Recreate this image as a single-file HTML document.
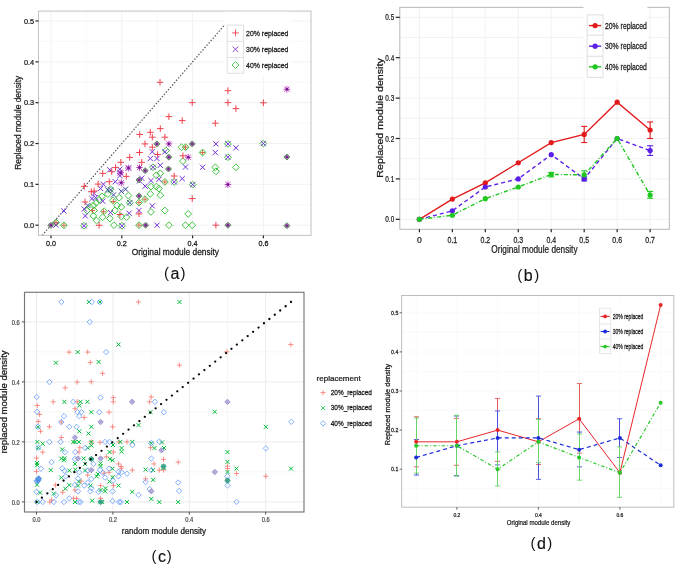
<!DOCTYPE html><html><head><meta charset="utf-8"><style>html,body{margin:0;padding:0;background:#fff;width:675px;height:564px;overflow:hidden}svg{display:block;font-family:"Liberation Sans", sans-serif}</style></head><body>
<svg width="675" height="564" viewBox="0 0 675 564">
<defs><filter id="gs" filterUnits="userSpaceOnUse" x="0" y="0" width="675" height="564"><feOffset dx="0" dy="0"/></filter></defs>
<rect width="675" height="564" fill="#fff"/>
<g filter="url(#gs)">
<rect x="38.5" y="11.1" width="272.5" height="224.3" fill="#fff"/>
<line x1="86.40" y1="11.10" x2="86.40" y2="235.40" stroke="#f6f6f6" stroke-width="0.8" />
<line x1="157.20" y1="11.10" x2="157.20" y2="235.40" stroke="#f6f6f6" stroke-width="0.8" />
<line x1="228.00" y1="11.10" x2="228.00" y2="235.40" stroke="#f6f6f6" stroke-width="0.8" />
<line x1="38.50" y1="204.78" x2="311.00" y2="204.78" stroke="#f6f6f6" stroke-width="0.8" />
<line x1="38.50" y1="163.94" x2="311.00" y2="163.94" stroke="#f6f6f6" stroke-width="0.8" />
<line x1="38.50" y1="123.10" x2="311.00" y2="123.10" stroke="#f6f6f6" stroke-width="0.8" />
<line x1="38.50" y1="82.26" x2="311.00" y2="82.26" stroke="#f6f6f6" stroke-width="0.8" />
<line x1="38.50" y1="41.42" x2="311.00" y2="41.42" stroke="#f6f6f6" stroke-width="0.8" />
<line x1="51.00" y1="11.10" x2="51.00" y2="235.40" stroke="#f1f1f1" stroke-width="0.9" />
<line x1="121.80" y1="11.10" x2="121.80" y2="235.40" stroke="#f1f1f1" stroke-width="0.9" />
<line x1="192.60" y1="11.10" x2="192.60" y2="235.40" stroke="#f1f1f1" stroke-width="0.9" />
<line x1="263.40" y1="11.10" x2="263.40" y2="235.40" stroke="#f1f1f1" stroke-width="0.9" />
<line x1="38.50" y1="225.20" x2="311.00" y2="225.20" stroke="#f1f1f1" stroke-width="0.9" />
<line x1="38.50" y1="184.36" x2="311.00" y2="184.36" stroke="#f1f1f1" stroke-width="0.9" />
<line x1="38.50" y1="143.52" x2="311.00" y2="143.52" stroke="#f1f1f1" stroke-width="0.9" />
<line x1="38.50" y1="102.68" x2="311.00" y2="102.68" stroke="#f1f1f1" stroke-width="0.9" />
<line x1="38.50" y1="61.84" x2="311.00" y2="61.84" stroke="#f1f1f1" stroke-width="0.9" />
<line x1="38.50" y1="21.00" x2="311.00" y2="21.00" stroke="#f1f1f1" stroke-width="0.9" />
<line x1="42.15" y1="235.41" x2="236.60" y2="11.08" stroke="#505050" stroke-width="1.2" stroke-dasharray="1.4 1.7"/>
<path d="M56.10 219.10L59.50 222.50L56.10 225.90L52.70 222.50ZM63.90 221.90L67.30 225.30L63.90 228.70L60.50 225.30ZM121.90 222.40L125.30 225.80L121.90 229.20L118.50 225.80ZM84.00 222.40L87.40 225.80L84.00 229.20L80.60 225.80ZM93.30 212.50L96.70 215.90L93.30 219.30L89.90 215.90ZM102.60 213.80L106.00 217.20L102.60 220.60L99.20 217.20ZM109.90 215.10L113.30 218.50L109.90 221.90L106.50 218.50ZM96.60 217.10L100.00 220.50L96.60 223.90L93.20 220.50ZM121.20 213.10L124.60 216.50L121.20 219.90L117.80 216.50ZM126.50 213.80L129.90 217.20L126.50 220.60L123.10 217.20ZM113.90 221.80L117.30 225.20L113.90 228.60L110.50 225.20ZM181.50 143.80L184.90 147.20L181.50 150.60L178.10 147.20ZM166.20 147.10L169.60 150.50L166.20 153.90L162.80 150.50ZM182.90 157.70L186.30 161.10L182.90 164.50L179.50 161.10ZM185.50 143.80L188.90 147.20L185.50 150.60L182.10 147.20ZM153.00 163.90L156.40 167.30L153.00 170.70L149.60 167.30ZM174.20 178.50L177.60 181.90L174.20 185.30L170.80 181.90ZM160.30 169.90L163.70 173.30L160.30 176.70L156.90 173.30ZM156.30 171.90L159.70 175.30L156.30 178.70L152.90 175.30ZM164.90 178.50L168.30 181.90L164.90 185.30L161.50 181.90ZM151.00 183.20L154.40 186.60L151.00 190.00L147.60 186.60ZM156.30 183.20L159.70 186.60L156.30 190.00L152.90 186.60ZM159.00 185.20L162.40 188.60L159.00 192.00L155.60 188.60ZM150.30 190.50L153.70 193.90L150.30 197.30L146.90 193.90ZM160.30 191.80L163.70 195.20L160.30 198.60L156.90 195.20ZM145.00 195.80L148.40 199.20L145.00 202.60L141.60 199.20ZM139.00 199.20L142.40 202.60L139.00 206.00L135.60 202.60ZM151.00 208.50L154.40 211.90L151.00 215.30L147.60 211.90ZM164.90 207.10L168.30 210.50L164.90 213.90L161.50 210.50ZM188.20 210.50L191.60 213.90L188.20 217.30L184.80 213.90ZM139.00 221.80L142.40 225.20L139.00 228.60L135.60 225.20ZM168.90 221.80L172.30 225.20L168.90 228.60L165.50 225.20ZM185.50 221.80L188.90 225.20L185.50 228.60L182.10 225.20ZM192.20 221.80L195.60 225.20L192.20 228.60L188.80 225.20ZM202.60 149.10L206.00 152.50L202.60 155.90L199.20 152.50ZM215.30 163.90L218.70 167.30L215.30 170.70L211.90 167.30ZM215.90 167.90L219.30 171.30L215.90 174.70L212.50 171.30ZM235.90 163.90L239.30 167.30L235.90 170.70L232.50 167.30ZM227.90 140.50L231.30 143.90L227.90 147.30L224.50 143.90ZM227.90 153.80L231.30 157.20L227.90 160.60L224.50 157.20ZM263.40 140.10L266.80 143.50L263.40 146.90L260.00 143.50ZM192.70 181.20L196.10 184.60L192.70 188.00L189.30 184.60ZM110.50 185.80L113.90 189.20L110.50 192.60L107.10 189.20ZM102.00 192.90L105.40 196.30L102.00 199.70L98.60 196.30ZM99.10 196.40L102.50 199.80L99.10 203.20L95.70 199.80ZM96.30 199.30L99.70 202.70L96.30 206.10L92.90 202.70ZM93.50 202.10L96.90 205.50L93.50 208.90L90.10 205.50ZM90.60 204.20L94.00 207.60L90.60 211.00L87.20 207.60ZM87.10 207.10L90.50 210.50L87.10 213.90L83.70 210.50ZM94.20 207.10L97.60 210.50L94.20 213.90L90.80 210.50ZM104.10 207.80L107.50 211.20L104.10 214.60L100.70 211.20ZM107.80 190.70L111.20 194.10L107.80 197.50L104.40 194.10ZM128.40 192.20L131.80 195.60L128.40 199.00L125.00 195.60ZM112.80 197.10L116.20 200.50L112.80 203.90L109.40 200.50ZM119.20 194.30L122.60 197.70L119.20 201.10L115.80 197.70ZM129.80 199.30L133.20 202.70L129.80 206.10L126.40 202.70ZM117.10 202.10L120.50 205.50L117.10 208.90L113.70 205.50ZM121.30 203.50L124.70 206.90L121.30 210.30L117.90 206.90ZM114.90 207.10L118.30 210.50L114.90 213.90L111.50 210.50Z" fill="none" stroke="#3fc43f" stroke-width="1.0"/>
<path d="M53.40 222.40L58.60 227.60M53.40 227.60L58.60 222.40M61.30 208.30L66.50 213.50M61.30 213.50L66.50 208.30M117.30 170.00L122.50 175.20M117.30 175.20L122.50 170.00M125.90 165.40L131.10 170.60M125.90 170.60L131.10 165.40M89.40 196.00L94.60 201.20M89.40 201.20L94.60 196.00M82.70 213.30L87.90 218.50M82.70 218.50L87.90 213.30M119.30 223.20L124.50 228.40M119.30 228.40L124.50 223.20M81.40 223.20L86.60 228.40M81.40 228.40L86.60 223.20M149.70 149.20L154.90 154.40M149.70 154.40L154.90 149.20M162.30 149.20L167.50 154.40M162.30 154.40L167.50 149.20M147.70 155.90L152.90 161.10M147.70 161.10L152.90 155.90M154.30 155.90L159.50 161.10M154.30 161.10L159.50 155.90M150.40 164.70L155.60 169.90M150.40 169.90L155.60 164.70M157.70 162.70L162.90 167.90M157.70 167.90L162.90 162.70M182.90 164.40L188.10 169.60M182.90 169.60L188.10 164.40M179.60 176.00L184.80 181.20M179.60 181.20L184.80 176.00M171.60 179.30L176.80 184.50M171.60 184.50L176.80 179.30M148.40 178.00L153.60 183.20M148.40 183.20L153.60 178.00M156.40 176.70L161.60 181.90M156.40 181.90L161.60 176.70M149.70 203.30L154.90 208.50M149.70 208.50L154.90 203.30M136.40 207.90L141.60 213.10M136.40 213.10L141.60 207.90M154.40 222.60L159.60 227.80M154.40 227.80L159.60 222.60M213.30 141.30L218.50 146.50M213.30 146.50L218.50 141.30M225.30 141.30L230.50 146.50M225.30 146.50L230.50 141.30M233.30 145.20L238.50 150.40M233.30 150.40L238.50 145.20M212.70 149.90L217.90 155.10M212.70 155.10L217.90 149.90M225.30 154.60L230.50 159.80M225.30 159.80L230.50 154.60M200.00 164.70L205.20 169.90M200.00 169.90L205.20 164.70M260.80 140.90L266.00 146.10M260.80 146.10L266.00 140.90M190.10 182.00L195.30 187.20M190.10 187.20L195.30 182.00M107.20 167.20L112.40 172.40M107.20 172.40L112.40 167.20M117.20 166.70L122.40 171.90M117.20 171.90L122.40 166.70M139.10 175.60L144.30 180.80M139.10 180.80L144.30 175.60M142.60 183.60L147.80 188.80M142.60 188.80L147.80 183.60M136.90 178.30L142.10 183.50M136.90 183.50L142.10 178.30M100.80 181.60L106.00 186.80M100.80 186.80L106.00 181.60M98.00 185.90L103.20 191.10M98.00 191.10L103.20 185.90M93.00 195.10L98.20 200.30M93.00 200.30L98.20 195.10M91.60 190.80L96.80 196.00M91.60 196.00L96.80 190.80M100.10 198.60L105.30 203.80M100.10 203.80L105.30 198.60M81.70 206.40L86.90 211.60M81.70 211.60L86.90 206.40M112.70 179.10L117.90 184.30M112.70 184.30L117.90 179.10M117.30 173.10L122.50 178.30M117.30 178.30L122.50 173.10M107.90 210.00L113.10 215.20M107.90 215.20L113.10 210.00M126.50 210.70L131.70 215.90M126.50 215.90L131.70 210.70" fill="none" stroke="#7030d8" stroke-width="1.0"/>
<path d="M95.80 225.30H102.40M99.10 222.00V228.60M116.60 214.50H123.20M119.90 211.20V217.80M188.90 102.60H195.50M192.20 99.30V105.90M165.60 116.60H172.20M168.90 113.30V119.90M178.90 120.60H185.50M182.20 117.30V123.90M157.00 128.60H163.60M160.30 125.30V131.90M136.40 134.50H143.00M139.70 131.20V137.80M147.00 132.30H153.60M150.30 129.00V135.60M149.00 137.20H155.60M152.30 133.90V140.50M161.60 137.20H168.20M164.90 133.90V140.50M141.70 143.90H148.30M145.00 140.60V147.20M149.00 147.20H155.60M152.30 143.90V150.50M154.30 154.50H160.90M157.60 151.20V157.80M179.60 155.80H186.20M182.90 152.50V159.10M170.90 176.00H177.50M174.20 172.70V179.30M188.90 198.60H195.50M192.20 195.30V201.90M135.70 213.90H142.30M139.00 210.60V217.20M224.60 90.70H231.20M227.90 87.40V94.00M224.60 102.60H231.20M227.90 99.30V105.90M232.60 108.60H239.20M235.90 105.30V111.90M212.00 123.20H218.60M215.30 119.90V126.50M212.60 225.20H219.20M215.90 221.90V228.50M260.10 102.80H266.70M263.40 99.50V106.10M156.70 82.30H163.30M160.00 79.00V85.60M136.20 152.50H142.80M139.50 149.20V155.80M126.40 157.40H133.00M129.70 154.10V160.70M138.40 162.30H145.00M141.70 159.00V165.60M117.50 162.30H124.10M120.80 159.00V165.60M99.40 173.40H106.00M102.70 170.10V176.70M81.00 186.30H87.60M84.30 183.00V189.60M81.70 202.00H88.30M85.00 198.70V205.30M88.00 191.70H94.60M91.30 188.40V195.00M90.90 191.00H97.50M94.20 187.70V194.30M123.00 176.40H129.60M126.30 173.10V179.70M112.20 167.60H118.80M115.50 164.30V170.90M108.40 171.70H115.00M111.70 168.40V175.00M94.80 184.10H101.40M98.10 180.80V187.40M106.00 181.70H112.60M109.30 178.40V185.00" fill="none" stroke="#ef4450" stroke-width="1.0"/>
<path d="M105.10 187.30L110.30 192.50M105.10 192.50L110.30 187.30M85.20 202.90L90.40 208.10M85.20 208.10L90.40 202.90M108.10 187.30L113.30 192.50M108.10 192.50L113.30 187.30M110.90 192.30L116.10 197.50M110.90 197.50L116.10 192.30M123.00 186.60L128.20 191.80M123.00 191.80L128.20 186.60M118.70 188.70L123.90 193.90M118.70 193.90L123.90 188.70M127.20 200.10L132.40 205.30M127.20 205.30L132.40 200.10" fill="none" stroke="#3a4aa0" stroke-width="1.0"/>
<path d="M53.60 222.50H58.60M56.10 220.00V225.00M61.40 225.30H66.40M63.90 222.80V227.80M183.00 147.20H188.00M185.50 144.70V149.70M162.40 181.90H167.40M164.90 179.40V184.40M142.50 199.20H147.50M145.00 196.70V201.70M136.50 202.60H141.50M139.00 200.10V205.10M136.50 225.20H141.50M139.00 222.70V227.70M200.10 152.50H205.10M202.60 150.00V155.00M101.10 211.70H106.10M103.60 209.20V214.20M90.00 210.50H95.00M92.50 208.00V213.00M110.80 201.50H115.80M113.30 199.00V204.00" fill="none" stroke="#d86a4a" stroke-width="1.0"/>
<path d="M50.90 222.30L53.90 225.30L50.90 228.30L47.90 225.30Z" fill="#a8a0a4" stroke="#5a965a" stroke-width="1.0"/>
<path d="M49.10 223.50L52.70 227.10M49.10 227.10L52.70 223.50M48.70 225.30H53.10M50.90 223.10V227.50" fill="none" stroke="#8a5a9a" stroke-width="0.7"/>
<circle cx="50.90" cy="225.30" r="1.2" fill="#7a1f9a"/>
<path d="M145.60 222.20L148.60 225.20L145.60 228.20L142.60 225.20Z" fill="#a8a0a4" stroke="#5a965a" stroke-width="1.0"/>
<path d="M143.80 223.40L147.40 227.00M143.80 227.00L147.40 223.40M143.40 225.20H147.80M145.60 223.00V227.40" fill="none" stroke="#8a5a9a" stroke-width="0.7"/>
<circle cx="145.60" cy="225.20" r="1.2" fill="#7a1f9a"/>
<path d="M227.90 222.20L230.90 225.20L227.90 228.20L224.90 225.20Z" fill="#a8a0a4" stroke="#5a965a" stroke-width="1.0"/>
<path d="M226.10 223.40L229.70 227.00M226.10 227.00L229.70 223.40M225.70 225.20H230.10M227.90 223.00V227.40" fill="none" stroke="#8a5a9a" stroke-width="0.7"/>
<circle cx="227.90" cy="225.20" r="1.2" fill="#7a1f9a"/>
<path d="M286.90 222.70L289.90 225.70L286.90 228.70L283.90 225.70Z" fill="#a8a0a4" stroke="#5a965a" stroke-width="1.0"/>
<path d="M285.10 223.90L288.70 227.50M285.10 227.50L288.70 223.90M284.70 225.70H289.10M286.90 223.50V227.90" fill="none" stroke="#8a5a9a" stroke-width="0.7"/>
<circle cx="286.90" cy="225.70" r="1.2" fill="#7a1f9a"/>
<path d="M286.90 154.00L289.90 157.00L286.90 160.00L283.90 157.00Z" fill="#a8a0a4" stroke="#5a965a" stroke-width="1.0"/>
<path d="M285.10 155.20L288.70 158.80M285.10 158.80L288.70 155.20M284.70 157.00H289.10M286.90 154.80V159.20" fill="none" stroke="#8a5a9a" stroke-width="0.7"/>
<circle cx="286.90" cy="157.00" r="1.2" fill="#7a1f9a"/>
<path d="M156.90 140.90L159.90 143.90L156.90 146.90L153.90 143.90Z" fill="#a8a0a4" stroke="#5a965a" stroke-width="1.0"/>
<path d="M155.10 142.10L158.70 145.70M155.10 145.70L158.70 142.10M154.70 143.90H159.10M156.90 141.70V146.10" fill="none" stroke="#8a5a9a" stroke-width="0.7"/>
<circle cx="156.90" cy="143.90" r="1.2" fill="#7a1f9a"/>
<path d="M192.20 140.90L195.20 143.90L192.20 146.90L189.20 143.90Z" fill="#a8a0a4" stroke="#5a965a" stroke-width="1.0"/>
<path d="M190.40 142.10L194.00 145.70M190.40 145.70L194.00 142.10M190.00 143.90H194.40M192.20 141.70V146.10" fill="none" stroke="#8a5a9a" stroke-width="0.7"/>
<circle cx="192.20" cy="143.90" r="1.2" fill="#7a1f9a"/>
<path d="M168.90 154.20L171.90 157.20L168.90 160.20L165.90 157.20Z" fill="#a8a0a4" stroke="#5a965a" stroke-width="1.0"/>
<path d="M167.10 155.40L170.70 159.00M167.10 159.00L170.70 155.40M166.70 157.20H171.10M168.90 155.00V159.40" fill="none" stroke="#8a5a9a" stroke-width="0.7"/>
<circle cx="168.90" cy="157.20" r="1.2" fill="#7a1f9a"/>
<path d="M168.50 166.00L171.50 169.00L168.50 172.00L165.50 169.00Z" fill="#a8a0a4" stroke="#5a965a" stroke-width="1.0"/>
<path d="M166.70 167.20L170.30 170.80M166.70 170.80L170.30 167.20M166.30 169.00H170.70M168.50 166.80V171.20" fill="none" stroke="#8a5a9a" stroke-width="0.7"/>
<circle cx="168.50" cy="169.00" r="1.2" fill="#7a1f9a"/>
<path d="M139.00 177.00L142.00 180.00L139.00 183.00L136.00 180.00Z" fill="#a8a0a4" stroke="#5a965a" stroke-width="1.0"/>
<path d="M137.20 178.20L140.80 181.80M137.20 181.80L140.80 178.20M136.80 180.00H141.20M139.00 177.80V182.20" fill="none" stroke="#8a5a9a" stroke-width="0.7"/>
<circle cx="139.00" cy="180.00" r="1.2" fill="#7a1f9a"/>
<path d="M139.00 192.90L142.00 195.90L139.00 198.90L136.00 195.90Z" fill="#a8a0a4" stroke="#5a965a" stroke-width="1.0"/>
<path d="M137.20 194.10L140.80 197.70M137.20 197.70L140.80 194.10M136.80 195.90H141.20M139.00 193.70V198.10" fill="none" stroke="#8a5a9a" stroke-width="0.7"/>
<circle cx="139.00" cy="195.90" r="1.2" fill="#7a1f9a"/>
<path d="M145.20 167.70L148.20 170.70L145.20 173.70L142.20 170.70Z" fill="#a8a0a4" stroke="#5a965a" stroke-width="1.0"/>
<path d="M143.40 168.90L147.00 172.50M143.40 172.50L147.00 168.90M143.00 170.70H147.40M145.20 168.50V172.90" fill="none" stroke="#8a5a9a" stroke-width="0.7"/>
<circle cx="145.20" cy="170.70" r="1.2" fill="#7a1f9a"/>
<path d="M165.60 143.90H172.20M168.90 140.60V147.20M166.30 141.30L171.50 146.50M166.30 146.50L171.50 141.30" fill="none" stroke="#c040c0" stroke-width="1"/>
<circle cx="168.90" cy="143.90" r="1.3" fill="#6a1a8a"/>
<path d="M184.90 157.20H191.50M188.20 153.90V160.50M185.60 154.60L190.80 159.80M185.60 159.80L190.80 154.60" fill="none" stroke="#c040c0" stroke-width="1"/>
<circle cx="188.20" cy="157.20" r="1.3" fill="#6a1a8a"/>
<path d="M224.60 184.60H231.20M227.90 181.30V187.90M225.30 182.00L230.50 187.20M225.30 187.20L230.50 182.00" fill="none" stroke="#c040c0" stroke-width="1"/>
<circle cx="227.90" cy="184.60" r="1.3" fill="#6a1a8a"/>
<path d="M283.60 89.20H290.20M286.90 85.90V92.50M284.30 86.60L289.50 91.80M284.30 91.80L289.50 86.60" fill="none" stroke="#c040c0" stroke-width="1"/>
<circle cx="286.90" cy="89.20" r="1.3" fill="#6a1a8a"/>
<path d="M125.10 168.00H131.70M128.40 164.70V171.30M125.80 165.40L131.00 170.60M125.80 170.60L131.00 165.40" fill="none" stroke="#c040c0" stroke-width="1"/>
<circle cx="128.40" cy="168.00" r="1.3" fill="#6a1a8a"/>
<path d="M136.20 167.60H142.80M139.50 164.30V170.90M136.90 165.00L142.10 170.20M136.90 170.20L142.10 165.00" fill="none" stroke="#c040c0" stroke-width="1"/>
<circle cx="139.50" cy="167.60" r="1.3" fill="#6a1a8a"/>
<path d="M118.00 182.80H124.60M121.30 179.50V186.10M118.70 180.20L123.90 185.40M118.70 185.40L123.90 180.20" fill="none" stroke="#c040c0" stroke-width="1"/>
<circle cx="121.30" cy="182.80" r="1.3" fill="#6a1a8a"/>
<path d="M117.50 172.80H124.10M120.80 169.50V176.10M118.20 170.20L123.40 175.40M118.20 175.40L123.40 170.20" fill="none" stroke="#c040c0" stroke-width="1"/>
<circle cx="120.80" cy="172.80" r="1.3" fill="#6a1a8a"/>
<rect x="38.5" y="11.1" width="272.5" height="224.3" fill="none" stroke="#c4c4c4" stroke-width="1.05"/>
<rect x="224.5" y="11.8" width="66" height="64" fill="#fff"/>
<rect x="227.1" y="25.1" width="16.6" height="48.1" fill="#fff" stroke="#d8d8d8" stroke-width="0.8"/>
<line x1="227.10" y1="41.30" x2="243.70" y2="41.30" stroke="#d8d8d8" stroke-width="0.8" />
<line x1="227.10" y1="57.50" x2="243.70" y2="57.50" stroke="#d8d8d8" stroke-width="0.8" />
<path d="M232.10 32.90H238.90M235.50 29.50V36.30" stroke="#ee4455" stroke-width="0.9" fill="none"/>
<path d="M232.80 46.60L238.20 52.00M232.80 52.00L238.20 46.60" stroke="#7a2ed6" stroke-width="0.9" fill="none"/>
<path d="M235.50 61.50L239.00 65.00L235.50 68.50L232.00 65.00Z" stroke="#3fc43f" stroke-width="0.9" fill="none"/>
<text transform="translate(246.10 35.80) scale(0.09905 0.10000)" x="0" y="0" font-size="70.00" fill="#1a1a1a" stroke="#1a1a1a" stroke-width="2.50" >20% replaced</text>
<text transform="translate(246.10 51.80) scale(0.09905 0.10000)" x="0" y="0" font-size="70.00" fill="#1a1a1a" stroke="#1a1a1a" stroke-width="2.50" >30% replaced</text>
<text transform="translate(246.10 67.80) scale(0.09905 0.10000)" x="0" y="0" font-size="70.00" fill="#1a1a1a" stroke="#1a1a1a" stroke-width="2.50" >40% replaced</text>
<line x1="35.50" y1="225.20" x2="38.50" y2="225.20" stroke="#222" stroke-width="1.2" />
<text transform="translate(34.20 227.90) scale(0.10051 0.10000)" x="0" y="0" font-size="73.00" fill="#1a1a1a" stroke="#1a1a1a" stroke-width="2.50" text-anchor="end" >0.0</text>
<line x1="35.50" y1="184.36" x2="38.50" y2="184.36" stroke="#222" stroke-width="1.2" />
<text transform="translate(34.20 187.06) scale(0.10051 0.10000)" x="0" y="0" font-size="73.00" fill="#1a1a1a" stroke="#1a1a1a" stroke-width="2.50" text-anchor="end" >0.1</text>
<line x1="35.50" y1="143.52" x2="38.50" y2="143.52" stroke="#222" stroke-width="1.2" />
<text transform="translate(34.20 146.22) scale(0.10051 0.10000)" x="0" y="0" font-size="73.00" fill="#1a1a1a" stroke="#1a1a1a" stroke-width="2.50" text-anchor="end" >0.2</text>
<line x1="35.50" y1="102.68" x2="38.50" y2="102.68" stroke="#222" stroke-width="1.2" />
<text transform="translate(34.20 105.38) scale(0.10051 0.10000)" x="0" y="0" font-size="73.00" fill="#1a1a1a" stroke="#1a1a1a" stroke-width="2.50" text-anchor="end" >0.3</text>
<line x1="35.50" y1="61.84" x2="38.50" y2="61.84" stroke="#222" stroke-width="1.2" />
<text transform="translate(34.20 64.54) scale(0.10051 0.10000)" x="0" y="0" font-size="73.00" fill="#1a1a1a" stroke="#1a1a1a" stroke-width="2.50" text-anchor="end" >0.4</text>
<line x1="35.50" y1="21.00" x2="38.50" y2="21.00" stroke="#222" stroke-width="1.2" />
<text transform="translate(34.20 23.70) scale(0.10051 0.10000)" x="0" y="0" font-size="73.00" fill="#1a1a1a" stroke="#1a1a1a" stroke-width="2.50" text-anchor="end" >0.5</text>
<line x1="51.00" y1="235.40" x2="51.00" y2="238.20" stroke="#222" stroke-width="1.2" />
<text transform="translate(51.00 245.60) scale(0.09854 0.10000)" x="0" y="0" font-size="73.00" fill="#1a1a1a" stroke="#1a1a1a" stroke-width="2.50" text-anchor="middle" >0.0</text>
<line x1="121.80" y1="235.40" x2="121.80" y2="238.20" stroke="#222" stroke-width="1.2" />
<text transform="translate(121.80 245.60) scale(0.09854 0.10000)" x="0" y="0" font-size="73.00" fill="#1a1a1a" stroke="#1a1a1a" stroke-width="2.50" text-anchor="middle" >0.2</text>
<line x1="192.60" y1="235.40" x2="192.60" y2="238.20" stroke="#222" stroke-width="1.2" />
<text transform="translate(192.60 245.60) scale(0.09854 0.10000)" x="0" y="0" font-size="73.00" fill="#1a1a1a" stroke="#1a1a1a" stroke-width="2.50" text-anchor="middle" >0.4</text>
<line x1="263.40" y1="235.40" x2="263.40" y2="238.20" stroke="#222" stroke-width="1.2" />
<text transform="translate(263.40 245.60) scale(0.09854 0.10000)" x="0" y="0" font-size="73.00" fill="#1a1a1a" stroke="#1a1a1a" stroke-width="2.50" text-anchor="middle" >0.6</text>
<text transform="translate(131.70 254.50) scale(0.09504 0.10000)" x="0" y="0" font-size="88.00" fill="#1a1a1a" stroke="#1a1a1a" stroke-width="2.50" >Original module density</text>
<text transform="translate(21.30 169.80) rotate(-90) scale(0.10107 0.10000)" x="0" y="0" font-size="83.00" fill="#1a1a1a" stroke="#1a1a1a" stroke-width="2.50" >Replaced module density</text>
<text transform="translate(164.00 278.00) scale(0.10000 0.10000)" x="0" y="0" font-size="150.00" fill="#111" >(</text>
<text transform="translate(170.50 278.80) scale(0.10000 0.10000)" x="0" y="0" font-size="160.00" fill="#111" stroke="#111" stroke-width="1.50" >a</text>
<text transform="translate(180.50 278.00) scale(0.10000 0.10000)" x="0" y="0" font-size="150.00" fill="#111" >)</text>
<rect x="399.8" y="7.35" width="269.49999999999994" height="221.95000000000002" fill="#fff"/>
<line x1="419.40" y1="7.35" x2="419.40" y2="229.30" stroke="#efefef" stroke-width="0.8" />
<line x1="452.36" y1="7.35" x2="452.36" y2="229.30" stroke="#efefef" stroke-width="0.8" />
<line x1="485.32" y1="7.35" x2="485.32" y2="229.30" stroke="#efefef" stroke-width="0.8" />
<line x1="518.28" y1="7.35" x2="518.28" y2="229.30" stroke="#efefef" stroke-width="0.8" />
<line x1="551.24" y1="7.35" x2="551.24" y2="229.30" stroke="#efefef" stroke-width="0.8" />
<line x1="584.20" y1="7.35" x2="584.20" y2="229.30" stroke="#efefef" stroke-width="0.8" />
<line x1="617.16" y1="7.35" x2="617.16" y2="229.30" stroke="#efefef" stroke-width="0.8" />
<line x1="650.12" y1="7.35" x2="650.12" y2="229.30" stroke="#efefef" stroke-width="0.8" />
<line x1="399.80" y1="219.30" x2="669.30" y2="219.30" stroke="#f0f0f0" stroke-width="0.8" />
<line x1="399.80" y1="199.10" x2="669.30" y2="199.10" stroke="#f0f0f0" stroke-width="0.8" />
<line x1="399.80" y1="178.90" x2="669.30" y2="178.90" stroke="#f0f0f0" stroke-width="0.8" />
<line x1="399.80" y1="158.70" x2="669.30" y2="158.70" stroke="#f0f0f0" stroke-width="0.8" />
<line x1="399.80" y1="138.50" x2="669.30" y2="138.50" stroke="#f0f0f0" stroke-width="0.8" />
<line x1="399.80" y1="118.30" x2="669.30" y2="118.30" stroke="#f0f0f0" stroke-width="0.8" />
<line x1="399.80" y1="98.10" x2="669.30" y2="98.10" stroke="#f0f0f0" stroke-width="0.8" />
<line x1="399.80" y1="77.90" x2="669.30" y2="77.90" stroke="#f0f0f0" stroke-width="0.8" />
<line x1="399.80" y1="57.70" x2="669.30" y2="57.70" stroke="#f0f0f0" stroke-width="0.8" />
<line x1="399.80" y1="37.50" x2="669.30" y2="37.50" stroke="#f0f0f0" stroke-width="0.8" />
<line x1="399.80" y1="17.30" x2="669.30" y2="17.30" stroke="#f0f0f0" stroke-width="0.8" />
<rect x="399.8" y="7.35" width="269.49999999999994" height="221.95000000000002" fill="none" stroke="#bababa" stroke-width="1.05"/>
<line x1="584.20" y1="142.54" x2="584.20" y2="126.38" stroke="#e31a1c" stroke-width="1.1" />
<line x1="581.20" y1="142.54" x2="587.20" y2="142.54" stroke="#e31a1c" stroke-width="1.1" />
<line x1="581.20" y1="126.38" x2="587.20" y2="126.38" stroke="#e31a1c" stroke-width="1.1" />
<line x1="650.12" y1="138.50" x2="650.12" y2="121.94" stroke="#e31a1c" stroke-width="1.1" />
<line x1="647.12" y1="138.50" x2="653.12" y2="138.50" stroke="#e31a1c" stroke-width="1.1" />
<line x1="647.12" y1="121.94" x2="653.12" y2="121.94" stroke="#e31a1c" stroke-width="1.1" />
<line x1="650.12" y1="155.47" x2="650.12" y2="145.77" stroke="#5a1ee6" stroke-width="1.1" />
<line x1="647.12" y1="155.47" x2="653.12" y2="155.47" stroke="#5a1ee6" stroke-width="1.1" />
<line x1="647.12" y1="145.77" x2="653.12" y2="145.77" stroke="#5a1ee6" stroke-width="1.1" />
<line x1="584.20" y1="180.92" x2="584.20" y2="176.88" stroke="#5a1ee6" stroke-width="1.1" />
<line x1="581.20" y1="180.92" x2="587.20" y2="180.92" stroke="#5a1ee6" stroke-width="1.1" />
<line x1="581.20" y1="176.88" x2="587.20" y2="176.88" stroke="#5a1ee6" stroke-width="1.1" />
<line x1="650.12" y1="198.29" x2="650.12" y2="191.42" stroke="#1ec81e" stroke-width="1.1" />
<line x1="647.12" y1="198.29" x2="653.12" y2="198.29" stroke="#1ec81e" stroke-width="1.1" />
<line x1="647.12" y1="191.42" x2="653.12" y2="191.42" stroke="#1ec81e" stroke-width="1.1" />
<line x1="551.24" y1="176.88" x2="551.24" y2="172.44" stroke="#1ec81e" stroke-width="1.1" />
<line x1="548.24" y1="176.88" x2="554.24" y2="176.88" stroke="#1ec81e" stroke-width="1.1" />
<line x1="548.24" y1="172.44" x2="554.24" y2="172.44" stroke="#1ec81e" stroke-width="1.1" />
<line x1="584.20" y1="178.90" x2="584.20" y2="170.82" stroke="#1ec81e" stroke-width="1.1" />
<line x1="581.20" y1="178.90" x2="587.20" y2="178.90" stroke="#1ec81e" stroke-width="1.1" />
<line x1="581.20" y1="170.82" x2="587.20" y2="170.82" stroke="#1ec81e" stroke-width="1.1" />
<polyline points="419.40,219.30 452.36,199.10 485.32,182.94 518.28,162.74 551.24,142.54 584.20,134.46 617.16,102.14 650.12,130.02" fill="none" stroke="#e31a1c" stroke-width="1.4" />
<polyline points="419.40,219.30 452.36,210.82 485.32,186.98 518.28,178.90 551.24,154.66 584.20,178.90 617.16,138.50 650.12,150.62" fill="none" stroke="#5a1ee6" stroke-width="1.4" stroke-dasharray="4 3"/>
<polyline points="419.40,219.30 452.36,215.26 485.32,198.70 518.28,186.98 551.24,174.46 584.20,174.86 617.16,138.50 650.12,195.06" fill="none" stroke="#1ec81e" stroke-width="1.4" stroke-dasharray="4 2 1 2"/>
<circle cx="419.40" cy="219.30" r="2.6" fill="#e31a1c"/>
<circle cx="452.36" cy="199.10" r="2.6" fill="#e31a1c"/>
<circle cx="485.32" cy="182.94" r="2.6" fill="#e31a1c"/>
<circle cx="518.28" cy="162.74" r="2.6" fill="#e31a1c"/>
<circle cx="551.24" cy="142.54" r="2.6" fill="#e31a1c"/>
<circle cx="584.20" cy="134.46" r="2.6" fill="#e31a1c"/>
<circle cx="617.16" cy="102.14" r="2.6" fill="#e31a1c"/>
<circle cx="650.12" cy="130.02" r="2.6" fill="#e31a1c"/>
<circle cx="419.40" cy="219.30" r="2.6" fill="#5a1ee6"/>
<circle cx="452.36" cy="210.82" r="2.6" fill="#5a1ee6"/>
<circle cx="485.32" cy="186.98" r="2.6" fill="#5a1ee6"/>
<circle cx="518.28" cy="178.90" r="2.6" fill="#5a1ee6"/>
<circle cx="551.24" cy="154.66" r="2.6" fill="#5a1ee6"/>
<circle cx="584.20" cy="178.90" r="2.6" fill="#5a1ee6"/>
<circle cx="617.16" cy="138.50" r="2.6" fill="#5a1ee6"/>
<circle cx="650.12" cy="150.62" r="2.6" fill="#5a1ee6"/>
<circle cx="419.40" cy="219.30" r="2.6" fill="#1ec81e"/>
<circle cx="452.36" cy="215.26" r="2.6" fill="#1ec81e"/>
<circle cx="485.32" cy="198.70" r="2.6" fill="#1ec81e"/>
<circle cx="518.28" cy="186.98" r="2.6" fill="#1ec81e"/>
<circle cx="551.24" cy="174.46" r="2.6" fill="#1ec81e"/>
<circle cx="584.20" cy="174.86" r="2.6" fill="#1ec81e"/>
<circle cx="617.16" cy="138.50" r="2.6" fill="#1ec81e"/>
<circle cx="650.12" cy="195.06" r="2.6" fill="#1ec81e"/>
<rect x="583.5" y="3" width="63.9" height="78" fill="#fff"/>
<rect x="587.1" y="14.9" width="15.9" height="62.4" fill="#fff" stroke="#d6d6d6" stroke-width="0.8"/>
<line x1="587.10" y1="35.20" x2="603.00" y2="35.20" stroke="#d6d6d6" stroke-width="0.8" />
<line x1="587.10" y1="56.30" x2="603.00" y2="56.30" stroke="#d6d6d6" stroke-width="0.8" />
<line x1="589.00" y1="25.60" x2="601.20" y2="25.60" stroke="#e31a1c" stroke-width="1.4" />
<circle cx="595.1" cy="25.60" r="2.6" fill="#e31a1c"/>
<line x1="589.00" y1="46.20" x2="601.20" y2="46.20" stroke="#5a1ee6" stroke-width="1.4" />
<circle cx="595.1" cy="46.20" r="2.6" fill="#5a1ee6"/>
<line x1="589.00" y1="66.80" x2="601.20" y2="66.80" stroke="#1ec81e" stroke-width="1.4" />
<circle cx="595.1" cy="66.80" r="2.6" fill="#1ec81e"/>
<text transform="translate(605.00 28.70) scale(0.07805 0.10000)" x="0" y="0" font-size="88.00" fill="#1a1a1a" stroke="#1a1a1a" stroke-width="2.50" >20% replaced</text>
<text transform="translate(605.00 49.40) scale(0.07805 0.10000)" x="0" y="0" font-size="88.00" fill="#1a1a1a" stroke="#1a1a1a" stroke-width="2.50" >30% replaced</text>
<text transform="translate(605.00 70.10) scale(0.07805 0.10000)" x="0" y="0" font-size="88.00" fill="#1a1a1a" stroke="#1a1a1a" stroke-width="2.50" >40% replaced</text>
<line x1="395.70" y1="219.30" x2="399.80" y2="219.30" stroke="#222" stroke-width="1.2" />
<text transform="translate(394.20 222.40) scale(0.07114 0.10000)" x="0" y="0" font-size="90.00" fill="#1a1a1a" stroke="#1a1a1a" stroke-width="2.50" text-anchor="end" >0.0</text>
<line x1="395.70" y1="178.90" x2="399.80" y2="178.90" stroke="#222" stroke-width="1.2" />
<text transform="translate(394.20 182.00) scale(0.07114 0.10000)" x="0" y="0" font-size="90.00" fill="#1a1a1a" stroke="#1a1a1a" stroke-width="2.50" text-anchor="end" >0.1</text>
<line x1="395.70" y1="138.50" x2="399.80" y2="138.50" stroke="#222" stroke-width="1.2" />
<text transform="translate(394.20 141.60) scale(0.07114 0.10000)" x="0" y="0" font-size="90.00" fill="#1a1a1a" stroke="#1a1a1a" stroke-width="2.50" text-anchor="end" >0.2</text>
<line x1="395.70" y1="98.10" x2="399.80" y2="98.10" stroke="#222" stroke-width="1.2" />
<text transform="translate(394.20 101.20) scale(0.07114 0.10000)" x="0" y="0" font-size="90.00" fill="#1a1a1a" stroke="#1a1a1a" stroke-width="2.50" text-anchor="end" >0.3</text>
<line x1="395.70" y1="57.70" x2="399.80" y2="57.70" stroke="#222" stroke-width="1.2" />
<text transform="translate(394.20 60.80) scale(0.07114 0.10000)" x="0" y="0" font-size="90.00" fill="#1a1a1a" stroke="#1a1a1a" stroke-width="2.50" text-anchor="end" >0.4</text>
<line x1="395.70" y1="17.30" x2="399.80" y2="17.30" stroke="#222" stroke-width="1.2" />
<text transform="translate(394.20 20.40) scale(0.07114 0.10000)" x="0" y="0" font-size="90.00" fill="#1a1a1a" stroke="#1a1a1a" stroke-width="2.50" text-anchor="end" >0.5</text>
<line x1="419.40" y1="229.30" x2="419.40" y2="232.30" stroke="#222" stroke-width="1.2" />
<text transform="translate(419.40 243.00) scale(0.09381 0.10000)" x="0" y="0" font-size="92.00" fill="#1a1a1a" stroke="#1a1a1a" stroke-width="2.50" text-anchor="middle" >0</text>
<line x1="452.36" y1="229.30" x2="452.36" y2="232.30" stroke="#222" stroke-width="1.2" />
<text transform="translate(452.36 243.00) scale(0.07584 0.10000)" x="0" y="0" font-size="92.00" fill="#1a1a1a" stroke="#1a1a1a" stroke-width="2.50" text-anchor="middle" >0.1</text>
<line x1="485.32" y1="229.30" x2="485.32" y2="232.30" stroke="#222" stroke-width="1.2" />
<text transform="translate(485.32 243.00) scale(0.07584 0.10000)" x="0" y="0" font-size="92.00" fill="#1a1a1a" stroke="#1a1a1a" stroke-width="2.50" text-anchor="middle" >0.2</text>
<line x1="518.28" y1="229.30" x2="518.28" y2="232.30" stroke="#222" stroke-width="1.2" />
<text transform="translate(518.28 243.00) scale(0.07584 0.10000)" x="0" y="0" font-size="92.00" fill="#1a1a1a" stroke="#1a1a1a" stroke-width="2.50" text-anchor="middle" >0.3</text>
<line x1="551.24" y1="229.30" x2="551.24" y2="232.30" stroke="#222" stroke-width="1.2" />
<text transform="translate(551.24 243.00) scale(0.07584 0.10000)" x="0" y="0" font-size="92.00" fill="#1a1a1a" stroke="#1a1a1a" stroke-width="2.50" text-anchor="middle" >0.4</text>
<line x1="584.20" y1="229.30" x2="584.20" y2="232.30" stroke="#222" stroke-width="1.2" />
<text transform="translate(584.20 243.00) scale(0.07584 0.10000)" x="0" y="0" font-size="92.00" fill="#1a1a1a" stroke="#1a1a1a" stroke-width="2.50" text-anchor="middle" >0.5</text>
<line x1="617.16" y1="229.30" x2="617.16" y2="232.30" stroke="#222" stroke-width="1.2" />
<text transform="translate(617.16 243.00) scale(0.07584 0.10000)" x="0" y="0" font-size="92.00" fill="#1a1a1a" stroke="#1a1a1a" stroke-width="2.50" text-anchor="middle" >0.6</text>
<line x1="650.12" y1="229.30" x2="650.12" y2="232.30" stroke="#222" stroke-width="1.2" />
<text transform="translate(650.12 243.00) scale(0.07584 0.10000)" x="0" y="0" font-size="92.00" fill="#1a1a1a" stroke="#1a1a1a" stroke-width="2.50" text-anchor="middle" >0.7</text>
<text transform="translate(491.30 253.30) scale(0.07865 0.10000)" x="0" y="0" font-size="105.00" fill="#1a1a1a" stroke="#1a1a1a" stroke-width="2.50" >Original module density</text>
<text transform="translate(383.00 177.70) rotate(-90) scale(0.11577 0.10000)" x="0" y="0" font-size="92.00" fill="#1a1a1a" stroke="#1a1a1a" stroke-width="2.50" >Replaced module density</text>
<text transform="translate(517.20 280.10) scale(0.10000 0.10000)" x="0" y="0" font-size="150.00" fill="#111" >(</text>
<text transform="translate(523.80 281.10) scale(0.10000 0.10000)" x="0" y="0" font-size="160.00" fill="#111" stroke="#111" stroke-width="1.50" >b</text>
<text transform="translate(534.30 280.10) scale(0.10000 0.10000)" x="0" y="0" font-size="150.00" fill="#111" >)</text>
<rect x="24.5" y="292.3" width="279.5" height="219.7" fill="#fff"/>
<line x1="74.70" y1="292.30" x2="74.70" y2="512.00" stroke="#f3f3f3" stroke-width="0.7" />
<line x1="24.50" y1="471.90" x2="304.00" y2="471.90" stroke="#f3f3f3" stroke-width="0.7" />
<line x1="151.10" y1="292.30" x2="151.10" y2="512.00" stroke="#f3f3f3" stroke-width="0.7" />
<line x1="24.50" y1="411.90" x2="304.00" y2="411.90" stroke="#f3f3f3" stroke-width="0.7" />
<line x1="227.50" y1="292.30" x2="227.50" y2="512.00" stroke="#f3f3f3" stroke-width="0.7" />
<line x1="24.50" y1="351.90" x2="304.00" y2="351.90" stroke="#f3f3f3" stroke-width="0.7" />
<line x1="36.50" y1="292.30" x2="36.50" y2="512.00" stroke="#ebebeb" stroke-width="1" />
<line x1="24.50" y1="501.90" x2="304.00" y2="501.90" stroke="#ebebeb" stroke-width="1" />
<line x1="112.90" y1="292.30" x2="112.90" y2="512.00" stroke="#ebebeb" stroke-width="1" />
<line x1="24.50" y1="441.90" x2="304.00" y2="441.90" stroke="#ebebeb" stroke-width="1" />
<line x1="189.30" y1="292.30" x2="189.30" y2="512.00" stroke="#ebebeb" stroke-width="1" />
<line x1="24.50" y1="381.90" x2="304.00" y2="381.90" stroke="#ebebeb" stroke-width="1" />
<line x1="265.70" y1="292.30" x2="265.70" y2="512.00" stroke="#ebebeb" stroke-width="1" />
<line x1="24.50" y1="321.90" x2="304.00" y2="321.90" stroke="#ebebeb" stroke-width="1" />
<path d="M135.80 302.00H141.00M138.40 299.40V304.60M66.50 352.10H71.70M69.10 349.50V354.70M85.10 352.10H90.30M87.70 349.50V354.70M288.20 344.60H293.40M290.80 342.00V347.20M224.20 351.80H229.40M226.80 349.20V354.40M74.50 382.10H79.70M77.10 379.50V384.70M62.60 387.80H67.80M65.20 385.20V390.40M50.60 401.80H55.80M53.20 399.20V404.40M74.50 401.80H79.70M77.10 399.20V404.40M34.60 405.50H39.80M37.20 402.90V408.10M72.40 408.70H77.60M75.00 406.10V411.30M87.70 362.40H92.90M90.30 359.80V365.00M100.00 373.40H105.20M102.60 370.80V376.00M88.60 381.80H93.80M91.20 379.20V384.40M110.70 397.60H115.90M113.30 395.00V400.20M110.70 401.80H115.90M113.30 399.20V404.40M176.80 365.10H182.00M179.40 362.50V367.70M148.60 397.00H153.80M151.20 394.40V399.60M147.00 401.80H152.20M149.60 399.20V404.40M37.00 414.40H42.20M39.60 411.80V417.00M58.70 422.00H63.90M61.30 419.40V424.60M35.70 421.50H40.90M38.30 418.90V424.10M46.80 426.80H52.00M49.40 424.20V429.40M37.90 431.30H43.10M40.50 428.70V433.90M58.70 437.50H63.90M61.30 434.90V440.10M40.10 452.10H45.30M42.70 449.50V454.70M106.40 412.20H111.60M109.00 409.60V414.80M81.60 417.50H86.80M84.20 414.90V420.10M110.00 426.80H115.20M112.60 424.20V429.40M88.70 441.90H93.90M91.30 439.30V444.50M97.50 442.40H102.70M100.10 439.80V445.00M77.20 447.70H82.40M79.80 445.10V450.30M76.30 452.10H81.50M78.90 449.50V454.70M110.80 452.10H116.00M113.40 449.50V454.70M116.40 441.90H121.60M119.00 439.30V444.50M124.40 441.90H129.60M127.00 439.30V444.50M147.90 447.70H153.10M150.50 445.10V450.30M33.90 458.10H39.10M36.50 455.50V460.70M33.90 471.40H39.10M36.50 468.80V474.00M53.00 485.10H58.20M55.60 482.50V487.70M60.10 492.20H65.30M62.70 489.60V494.80M47.20 502.00H52.40M49.80 499.40V504.60M48.90 500.00H54.10M51.50 497.40V502.60M103.70 456.80H108.90M106.30 454.20V459.40M88.70 470.10H93.90M91.30 467.50V472.70M85.10 475.00H90.30M87.70 472.40V477.60M101.50 473.20H106.70M104.10 470.60V475.80M106.40 472.30H111.60M109.00 469.70V474.90M78.50 481.20H83.70M81.10 478.60V483.80M98.00 485.60H103.20M100.60 483.00V488.20M110.80 485.60H116.00M113.40 483.00V488.20M72.30 490.00H77.50M74.90 487.40V492.60M70.90 498.40H76.10M73.50 495.80V501.00M74.00 498.40H79.20M76.60 495.80V501.00M98.00 498.40H103.20M100.60 495.80V501.00M115.90 463.90H121.10M118.50 461.30V466.50M118.60 466.50H123.80M121.20 463.90V469.10M118.60 468.30H123.80M121.20 465.70V470.90M151.40 463.90H156.60M154.00 461.30V466.50M129.70 470.10H134.90M132.30 467.50V472.70M156.70 470.10H161.90M159.30 467.50V472.70M143.00 478.90H148.20M145.60 476.30V481.50M160.90 459.40H166.10M163.50 456.80V462.00M175.60 462.10H180.80M178.20 459.50V464.70M160.90 470.10H166.10M163.50 467.50V472.70M224.90 466.10H230.10M227.50 463.50V468.70M224.90 468.60H230.10M227.50 466.00V471.20M233.90 473.50H239.10M236.50 470.90V476.10M263.20 476.30H268.40M265.80 473.70V478.90" fill="none" stroke="#f8766d" stroke-width="0.8"/>
<path d="M35.40 499.90L39.40 503.90M35.40 503.90L39.40 499.90M86.90 300.00L90.90 304.00M86.90 304.00L90.90 300.00M97.90 300.00L101.90 304.00M97.90 304.00L101.90 300.00M177.50 300.00L181.50 304.00M177.50 304.00L181.50 300.00M75.70 350.10L79.70 354.10M75.70 354.10L79.70 350.10M116.50 342.60L120.50 346.60M116.50 346.60L120.50 342.60M53.90 360.70L57.90 364.70M53.90 364.70L57.90 360.70M62.40 399.80L66.40 403.80M62.40 403.80L66.40 399.80M77.30 403.50L81.30 407.50M77.30 407.50L81.30 403.50M96.60 359.90L100.60 363.90M96.60 363.90L100.60 359.90M85.40 399.80L89.40 403.80M85.40 403.80L89.40 399.80M78.50 399.80L82.50 403.80M78.50 403.80L82.50 399.80M212.80 409.70L216.80 413.70M212.80 413.70L216.80 409.70M263.80 424.80L267.80 428.80M263.80 428.80L267.80 424.80M35.90 424.80L39.90 428.80M35.90 428.80L39.90 424.80M35.40 439.90L39.40 443.90M35.40 443.90L39.40 439.90M40.70 441.70L44.70 445.70M40.70 445.70L44.70 441.70M71.30 439.90L75.30 443.90M71.30 443.90L75.30 439.90M36.30 445.70L40.30 449.70M36.30 449.70L40.30 445.70M60.20 447.50L64.20 451.50M60.20 451.50L64.20 447.50M62.50 456.30L66.50 460.30M62.50 460.30L66.50 456.30M89.30 410.20L93.30 414.20M89.30 414.20L93.30 410.20M89.30 424.80L93.30 428.80M89.30 428.80L93.30 424.80M77.30 429.30L81.30 433.30M77.30 433.30L81.30 429.30M86.60 431.50L90.60 435.50M86.60 435.50L90.60 431.50M73.30 439.90L77.30 443.90M73.30 443.90L77.30 439.90M76.90 439.90L80.90 443.90M76.90 443.90L80.90 439.90M89.30 439.90L93.30 443.90M89.30 443.90L93.30 439.90M85.70 445.70L89.70 449.70M85.70 449.70L89.70 445.70M89.30 443.50L93.30 447.50M89.30 447.50L93.30 443.50M111.00 443.00L115.00 447.00M111.00 447.00L115.00 443.00M107.50 450.10L111.50 454.10M107.50 454.10L111.50 450.10M148.50 410.20L152.50 414.20M148.50 414.20L152.50 410.20M136.50 423.10L140.50 427.10M136.50 427.10L140.50 423.10M118.30 439.90L122.30 443.90M118.30 443.90L122.30 439.90M130.30 439.90L134.30 443.90M130.30 443.90L134.30 439.90M119.60 446.10L123.60 450.10M119.60 450.10L123.60 446.10M119.60 449.70L123.60 453.70M119.60 453.70L123.60 449.70M149.30 441.20L153.30 445.20M149.30 445.20L153.30 441.20M152.50 446.10L156.50 450.10M152.50 450.10L156.50 446.10M160.00 440.40L164.00 444.40M160.00 444.40L164.00 440.40M162.00 446.00L166.00 450.00M162.00 450.00L166.00 446.00M35.00 461.00L39.00 465.00M35.00 465.00L39.00 461.00M35.00 463.20L39.00 467.20M35.00 467.20L39.00 463.20M48.70 468.10L52.70 472.10M48.70 472.10L52.70 468.10M59.30 456.50L63.30 460.50M59.30 460.50L63.30 456.50M62.00 458.30L66.00 462.30M62.00 462.30L66.00 458.30M67.30 468.50L71.30 472.50M67.30 472.50L71.30 468.50M59.30 475.60L63.30 479.60M59.30 479.60L63.30 475.60M67.30 483.10L71.30 487.10M67.30 487.10L71.30 483.10M63.30 486.70L67.30 490.70M63.30 490.70L67.30 486.70M35.00 482.70L39.00 486.70M35.00 486.70L39.00 482.70M38.10 490.70L42.10 494.70M38.10 494.70L42.10 490.70M51.80 491.60L55.80 495.60M51.80 495.60L55.80 491.60M81.70 456.50L85.70 460.50M81.70 460.50L85.70 456.50M107.90 457.00L111.90 461.00M107.90 461.00L111.90 457.00M110.60 458.30L114.60 462.30M110.60 462.30L114.60 458.30M72.90 461.90L76.90 465.90M72.90 465.90L76.90 461.90M83.10 461.90L87.10 465.90M83.10 465.90L87.10 461.90M98.60 461.40L102.60 465.40M98.60 465.40L102.60 461.40M73.30 467.60L77.30 471.60M73.30 471.60L77.30 467.60M83.10 468.50L87.10 472.50M83.10 472.50L87.10 468.50M98.60 464.10L102.60 468.10M98.60 468.10L102.60 464.10M110.60 466.70L114.60 470.70M110.60 470.70L114.60 466.70M95.90 472.10L99.90 476.10M95.90 476.10L99.90 472.10M94.60 474.30L98.60 478.30M94.60 478.30L98.60 474.30M110.60 475.20L114.60 479.20M110.60 479.20L114.60 475.20M107.50 479.60L111.50 483.60M107.50 483.60L111.50 479.60M76.90 479.60L80.90 483.60M76.90 483.60L80.90 479.60M76.00 483.60L80.00 487.60M76.00 487.60L80.00 483.60M88.40 483.60L92.40 487.60M88.40 487.60L92.40 483.60M103.50 486.20L107.50 490.20M103.50 490.20L107.50 486.20M103.00 489.30L107.00 493.30M103.00 493.30L107.00 489.30M98.60 488.00L102.60 492.00M98.60 492.00L102.60 488.00M72.90 500.00L76.90 504.00M72.90 504.00L76.90 500.00M90.20 498.70L94.20 502.70M90.20 502.70L94.20 498.70M100.20 500.00L104.20 504.00M100.20 504.00L104.20 500.00M143.60 467.60L147.60 471.60M143.60 471.60L147.60 467.60M151.10 468.10L155.10 472.10M151.10 472.10L155.10 468.10M151.10 477.80L155.10 481.80M151.10 481.80L155.10 477.80M116.50 483.60L120.50 487.60M116.50 487.60L120.50 483.60M130.30 489.80L134.30 493.80M130.30 493.80L134.30 489.80M149.30 496.90L153.30 500.90M149.30 500.90L153.30 496.90M125.00 500.00L129.00 504.00M125.00 504.00L129.00 500.00M157.30 500.00L161.30 504.00M157.30 504.00L161.30 500.00M176.20 500.00L180.20 504.00M176.20 504.00L180.20 500.00M161.50 466.00L165.50 470.00M161.50 470.00L165.50 466.00M225.50 450.10L229.50 454.10M225.50 454.10L229.50 450.10M225.50 459.90L229.50 463.90M225.50 463.90L229.50 459.90M225.50 470.00L229.50 474.00M225.50 474.00L229.50 470.00M234.50 466.60L238.50 470.60M234.50 470.60L238.50 466.60M289.00 466.60L293.00 470.60M289.00 470.60L293.00 466.60" fill="none" stroke="#00ba38" stroke-width="1.0"/>
<path d="M61.40 299.30L64.10 302.00L61.40 304.70L58.70 302.00ZM91.80 299.30L94.50 302.00L91.80 304.70L89.10 302.00ZM89.80 319.30L92.50 322.00L89.80 324.70L87.10 322.00ZM99.90 299.30L102.60 302.00L99.90 304.70L97.20 302.00ZM106.10 349.40L108.80 352.10L106.10 354.80L103.40 352.10ZM291.30 419.10L294.00 421.80L291.30 424.50L288.60 421.80ZM49.50 379.40L52.20 382.10L49.50 384.80L46.80 382.10ZM36.70 394.30L39.40 397.00L36.70 399.70L34.00 397.00ZM73.20 399.10L75.90 401.80L73.20 404.50L70.50 401.80ZM100.40 394.90L103.10 397.60L100.40 400.30L97.70 397.60ZM154.90 399.10L157.60 401.80L154.90 404.50L152.20 401.80ZM37.00 409.10L39.70 411.80L37.00 414.50L34.30 411.80ZM64.00 413.50L66.70 416.20L64.00 418.90L61.30 416.20ZM61.30 419.30L64.00 422.00L61.30 424.70L58.60 422.00ZM37.90 424.10L40.60 426.80L37.90 429.50L35.20 426.80ZM69.30 424.10L72.00 426.80L69.30 429.50L66.60 426.80ZM49.40 439.20L52.10 441.90L49.40 444.60L46.70 441.90ZM60.50 439.20L63.20 441.90L60.50 444.60L57.80 441.90ZM38.30 445.00L41.00 447.70L38.30 450.40L35.60 447.70ZM64.90 449.40L67.60 452.10L64.90 454.80L62.20 452.10ZM77.50 409.50L80.20 412.20L77.50 414.90L74.80 412.20ZM81.50 409.50L84.20 412.20L81.50 414.90L78.80 412.20ZM79.30 413.50L82.00 416.20L79.30 418.90L76.60 416.20ZM99.30 409.50L102.00 412.20L99.30 414.90L96.60 412.20ZM76.60 424.10L79.30 426.80L76.60 429.50L73.90 426.80ZM105.00 439.20L107.70 441.90L105.00 444.60L102.30 441.90ZM109.50 439.20L112.20 441.90L109.50 444.60L106.80 441.90ZM85.10 445.40L87.80 448.10L85.10 450.80L82.40 448.10ZM75.30 449.40L78.00 452.10L75.30 454.80L72.60 452.10ZM163.80 409.50L166.50 412.20L163.80 414.90L161.10 412.20ZM132.30 442.30L135.00 445.00L132.30 447.70L129.60 445.00ZM151.30 440.50L154.00 443.20L151.30 445.90L148.60 443.20ZM159.30 438.80L162.00 441.50L159.30 444.20L156.60 441.50ZM41.00 466.00L43.70 468.70L41.00 471.40L38.30 468.70ZM51.60 459.40L54.30 462.10L51.60 464.80L48.90 462.10ZM62.20 465.60L64.90 468.30L62.20 471.00L59.50 468.30ZM65.80 473.60L68.50 476.30L65.80 479.00L63.10 476.30ZM36.50 489.10L39.20 491.80L36.50 494.50L33.80 491.80ZM56.00 492.60L58.70 495.30L56.00 498.00L53.30 495.30ZM69.30 495.70L72.00 498.40L69.30 501.10L66.60 498.40ZM42.70 499.30L45.40 502.00L42.70 504.70L40.00 502.00ZM53.80 499.30L56.50 502.00L53.80 504.70L51.10 502.00ZM64.00 499.30L66.70 502.00L64.00 504.70L61.30 502.00ZM74.90 456.30L77.60 459.00L74.90 461.70L72.20 459.00ZM93.50 461.20L96.20 463.90L93.50 466.60L90.80 463.90ZM87.70 467.80L90.40 470.50L87.70 473.20L85.00 470.50ZM100.10 467.40L102.80 470.10L100.10 472.80L97.40 470.10ZM109.00 466.00L111.70 468.70L109.00 471.40L106.30 468.70ZM79.30 469.60L82.00 472.30L79.30 475.00L76.60 472.30ZM102.80 470.00L105.50 472.70L102.80 475.40L100.10 472.70ZM105.00 474.90L107.70 477.60L105.00 480.30L102.30 477.60ZM78.00 475.80L80.70 478.50L78.00 481.20L75.30 478.50ZM91.30 476.20L94.00 478.90L91.30 481.60L88.60 478.90ZM113.00 478.00L115.70 480.70L113.00 483.40L110.30 480.70ZM74.90 482.00L77.60 484.70L74.90 487.40L72.20 484.70ZM87.70 479.80L90.40 482.50L87.70 485.20L85.00 482.50ZM84.20 482.90L86.90 485.60L84.20 488.30L81.50 485.60ZM91.30 485.50L94.00 488.20L91.30 490.90L88.60 488.20ZM78.00 488.60L80.70 491.30L78.00 494.00L75.30 491.30ZM90.40 488.60L93.10 491.30L90.40 494.00L87.70 491.30ZM98.40 489.10L101.10 491.80L98.40 494.50L95.70 491.80ZM112.60 488.60L115.30 491.30L112.60 494.00L109.90 491.30ZM78.90 499.30L81.60 502.00L78.90 504.70L76.20 502.00ZM80.60 499.30L83.30 502.00L80.60 504.70L77.90 502.00ZM119.20 499.30L121.90 502.00L119.20 504.70L116.50 502.00ZM151.30 455.80L154.00 458.50L151.30 461.20L148.60 458.50ZM118.50 469.10L121.20 471.80L118.50 474.50L115.80 471.80ZM121.60 469.60L124.30 472.30L121.60 475.00L118.90 472.30ZM118.50 473.60L121.20 476.30L118.50 479.00L115.80 476.30ZM127.00 470.90L129.70 473.60L127.00 476.30L124.30 473.60ZM151.30 467.40L154.00 470.10L151.30 472.80L148.60 470.10ZM145.60 479.30L148.30 482.00L145.60 484.70L142.90 482.00ZM149.60 486.40L152.30 489.10L149.60 491.80L146.90 489.10ZM138.50 492.20L141.20 494.90L138.50 497.60L135.80 494.90ZM120.80 499.30L123.50 502.00L120.80 504.70L118.10 502.00ZM178.20 479.80L180.90 482.50L178.20 485.20L175.50 482.50ZM179.10 488.20L181.80 490.90L179.10 493.60L176.40 490.90ZM227.50 473.60L230.20 476.30L227.50 479.00L224.80 476.30ZM227.50 482.80L230.20 485.50L227.50 488.20L224.80 485.50ZM236.50 499.20L239.20 501.90L236.50 504.60L233.80 501.90ZM265.80 445.70L268.50 448.40L265.80 451.10L263.10 448.40ZM112.60 498.40L115.30 501.10L112.60 503.80L109.90 501.10ZM36.50 478.30L39.20 481.00L36.50 483.70L33.80 481.00ZM38.50 476.30L41.20 479.00L38.50 481.70L35.80 479.00ZM37.40 499.20L40.10 501.90L37.40 504.60L34.70 501.90ZM64.50 468.30L67.20 471.00L64.50 473.70L61.80 471.00Z" fill="none" stroke="#619cff" stroke-width="0.8"/>
<path d="M132.10 399.10L134.80 401.80L132.10 404.50L129.40 401.80Z" fill="#b4acd8" stroke="#8f8ccc" stroke-width="0.8"/>
<path d="M227.50 399.20L230.20 401.90L227.50 404.60L224.80 401.90Z" fill="#b4acd8" stroke="#8f8ccc" stroke-width="0.8"/>
<path d="M100.60 419.30L103.30 422.00L100.60 424.70L97.90 422.00Z" fill="#b4acd8" stroke="#8f8ccc" stroke-width="0.8"/>
<path d="M74.90 434.80L77.60 437.50L74.90 440.20L72.20 437.50Z" fill="#b4acd8" stroke="#8f8ccc" stroke-width="0.8"/>
<path d="M161.50 447.60L164.20 450.30L161.50 453.00L158.80 450.30Z" fill="#b4acd8" stroke="#8f8ccc" stroke-width="0.8"/>
<path d="M78.00 455.80L80.70 458.50L78.00 461.20L75.30 458.50Z" fill="#b4acd8" stroke="#8f8ccc" stroke-width="0.8"/>
<path d="M100.60 455.80L103.30 458.50L100.60 461.20L97.90 458.50Z" fill="#b4acd8" stroke="#8f8ccc" stroke-width="0.8"/>
<path d="M214.80 469.30L217.50 472.00L214.80 474.70L212.10 472.00Z" fill="#b4acd8" stroke="#8f8ccc" stroke-width="0.8"/>
<path d="M151.30 488.60L154.00 491.30L151.30 494.00L148.60 491.30Z" fill="#b4acd8" stroke="#8f8ccc" stroke-width="0.8"/>
<path d="M91.30 467.40L94.00 470.10L91.30 472.80L88.60 470.10Z" fill="#b4acd8" stroke="#8f8ccc" stroke-width="0.8"/>
<path d="M37.90 477.90L40.70 480.70L37.90 483.50L35.10 480.70Z" fill="#5a98ec" stroke="#4a88e0" stroke-width="0.9"/>
<path d="M38.60 475.80L41.40 478.60L38.60 481.40L35.80 478.60Z" fill="#5a98ec" stroke="#4a88e0" stroke-width="0.9"/>
<path d="M163.50 463.80L166.20 466.50L163.50 469.20L160.80 466.50ZM161.40 464.40L165.60 468.60M161.40 468.60L165.60 464.40" fill="#4aa8a0" stroke="#2a9a70" stroke-width="0.8"/>
<path d="M227.50 477.80L230.20 480.50L227.50 483.20L224.80 480.50ZM225.40 478.40L229.60 482.60M225.40 482.60L229.60 478.40" fill="#4aa8a0" stroke="#2a9a70" stroke-width="0.8"/>
<path d="M91.30 456.30L94.00 459.00L91.30 461.70L88.60 459.00ZM89.20 456.90L93.40 461.10M89.20 461.10L93.40 456.90" fill="#4aa8a0" stroke="#2a9a70" stroke-width="0.8"/>
<path d="M100.60 499.30L103.30 502.00L100.60 504.70L97.90 502.00ZM98.50 499.90L102.70 504.10M98.50 504.10L102.70 499.90" fill="#4aa8a0" stroke="#2a9a70" stroke-width="0.8"/>
<circle cx="36.50" cy="501.90" r="1.15" fill="#000"/>
<circle cx="41.92" cy="497.65" r="1.15" fill="#000"/>
<circle cx="47.33" cy="493.39" r="1.15" fill="#000"/>
<circle cx="52.75" cy="489.14" r="1.15" fill="#000"/>
<circle cx="58.16" cy="484.89" r="1.15" fill="#000"/>
<circle cx="63.58" cy="480.64" r="1.15" fill="#000"/>
<circle cx="68.99" cy="476.38" r="1.15" fill="#000"/>
<circle cx="74.41" cy="472.13" r="1.15" fill="#000"/>
<circle cx="79.82" cy="467.88" r="1.15" fill="#000"/>
<circle cx="85.24" cy="463.62" r="1.15" fill="#000"/>
<circle cx="90.65" cy="459.37" r="1.15" fill="#000"/>
<circle cx="96.07" cy="455.12" r="1.15" fill="#000"/>
<circle cx="101.49" cy="450.86" r="1.15" fill="#000"/>
<circle cx="106.90" cy="446.61" r="1.15" fill="#000"/>
<circle cx="112.32" cy="442.36" r="1.15" fill="#000"/>
<circle cx="117.73" cy="438.11" r="1.15" fill="#000"/>
<circle cx="123.15" cy="433.85" r="1.15" fill="#000"/>
<circle cx="128.56" cy="429.60" r="1.15" fill="#000"/>
<circle cx="133.98" cy="425.35" r="1.15" fill="#000"/>
<circle cx="139.39" cy="421.09" r="1.15" fill="#000"/>
<circle cx="144.81" cy="416.84" r="1.15" fill="#000"/>
<circle cx="150.22" cy="412.59" r="1.15" fill="#000"/>
<circle cx="155.64" cy="408.33" r="1.15" fill="#000"/>
<circle cx="161.06" cy="404.08" r="1.15" fill="#000"/>
<circle cx="166.47" cy="399.83" r="1.15" fill="#000"/>
<circle cx="171.89" cy="395.58" r="1.15" fill="#000"/>
<circle cx="177.30" cy="391.32" r="1.15" fill="#000"/>
<circle cx="182.72" cy="387.07" r="1.15" fill="#000"/>
<circle cx="188.13" cy="382.82" r="1.15" fill="#000"/>
<circle cx="193.55" cy="378.56" r="1.15" fill="#000"/>
<circle cx="198.96" cy="374.31" r="1.15" fill="#000"/>
<circle cx="204.38" cy="370.06" r="1.15" fill="#000"/>
<circle cx="209.79" cy="365.80" r="1.15" fill="#000"/>
<circle cx="215.21" cy="361.55" r="1.15" fill="#000"/>
<circle cx="220.63" cy="357.30" r="1.15" fill="#000"/>
<circle cx="226.04" cy="353.05" r="1.15" fill="#000"/>
<circle cx="231.46" cy="348.79" r="1.15" fill="#000"/>
<circle cx="236.87" cy="344.54" r="1.15" fill="#000"/>
<circle cx="242.29" cy="340.29" r="1.15" fill="#000"/>
<circle cx="247.70" cy="336.03" r="1.15" fill="#000"/>
<circle cx="253.12" cy="331.78" r="1.15" fill="#000"/>
<circle cx="258.53" cy="327.53" r="1.15" fill="#000"/>
<circle cx="263.95" cy="323.27" r="1.15" fill="#000"/>
<circle cx="269.36" cy="319.02" r="1.15" fill="#000"/>
<circle cx="274.78" cy="314.77" r="1.15" fill="#000"/>
<circle cx="280.20" cy="310.52" r="1.15" fill="#000"/>
<circle cx="285.61" cy="306.26" r="1.15" fill="#000"/>
<circle cx="291.03" cy="302.01" r="1.15" fill="#000"/>
<rect x="24.5" y="292.3" width="279.5" height="219.7" fill="none" stroke="#777" stroke-width="1.15"/>
<line x1="21.80" y1="501.90" x2="24.50" y2="501.90" stroke="#444" stroke-width="0.9" />
<text transform="translate(19.80 504.50) scale(0.07993 0.10000)" x="0" y="0" font-size="72.00" fill="#4d4d4d" stroke="#4d4d4d" stroke-width="2.50" text-anchor="end" >0.0</text>
<line x1="36.50" y1="512.00" x2="36.50" y2="514.70" stroke="#444" stroke-width="0.9" />
<text transform="translate(36.50 522.00) scale(0.07993 0.10000)" x="0" y="0" font-size="72.00" fill="#4d4d4d" stroke="#4d4d4d" stroke-width="2.50" text-anchor="middle" >0.0</text>
<line x1="21.80" y1="441.90" x2="24.50" y2="441.90" stroke="#444" stroke-width="0.9" />
<text transform="translate(19.80 444.50) scale(0.07993 0.10000)" x="0" y="0" font-size="72.00" fill="#4d4d4d" stroke="#4d4d4d" stroke-width="2.50" text-anchor="end" >0.2</text>
<line x1="112.90" y1="512.00" x2="112.90" y2="514.70" stroke="#444" stroke-width="0.9" />
<text transform="translate(112.90 522.00) scale(0.07993 0.10000)" x="0" y="0" font-size="72.00" fill="#4d4d4d" stroke="#4d4d4d" stroke-width="2.50" text-anchor="middle" >0.2</text>
<line x1="21.80" y1="381.90" x2="24.50" y2="381.90" stroke="#444" stroke-width="0.9" />
<text transform="translate(19.80 384.50) scale(0.07993 0.10000)" x="0" y="0" font-size="72.00" fill="#4d4d4d" stroke="#4d4d4d" stroke-width="2.50" text-anchor="end" >0.4</text>
<line x1="189.30" y1="512.00" x2="189.30" y2="514.70" stroke="#444" stroke-width="0.9" />
<text transform="translate(189.30 522.00) scale(0.07993 0.10000)" x="0" y="0" font-size="72.00" fill="#4d4d4d" stroke="#4d4d4d" stroke-width="2.50" text-anchor="middle" >0.4</text>
<line x1="21.80" y1="321.90" x2="24.50" y2="321.90" stroke="#444" stroke-width="0.9" />
<text transform="translate(19.80 324.50) scale(0.07993 0.10000)" x="0" y="0" font-size="72.00" fill="#4d4d4d" stroke="#4d4d4d" stroke-width="2.50" text-anchor="end" >0.6</text>
<line x1="265.70" y1="512.00" x2="265.70" y2="514.70" stroke="#444" stroke-width="0.9" />
<text transform="translate(265.70 522.00) scale(0.07993 0.10000)" x="0" y="0" font-size="72.00" fill="#4d4d4d" stroke="#4d4d4d" stroke-width="2.50" text-anchor="middle" >0.6</text>
<text transform="translate(121.80 533.60) scale(0.09441 0.10000)" x="0" y="0" font-size="86.00" fill="#1a1a1a" stroke="#1a1a1a" stroke-width="2.50" >random module density</text>
<text transform="translate(6.60 453.60) rotate(-90) scale(0.11233 0.10000)" x="0" y="0" font-size="85.00" fill="#1a1a1a" stroke="#1a1a1a" stroke-width="2.50" >replaced module density</text>
<text transform="translate(316.60 380.80) scale(0.10017 0.10000)" x="0" y="0" font-size="80.00" fill="#1a1a1a" stroke="#1a1a1a" stroke-width="2.50" >replacement</text>
<path d="M320.40 392.60H325.60M323.00 390.00V395.20" stroke="#f8766d" stroke-width="0.8" fill="none"/>
<path d="M320.90 406.00L325.10 410.20M320.90 410.20L325.10 406.00" stroke="#00ba38" stroke-width="0.8" fill="none"/>
<path d="M323.00 420.70L325.70 423.40L323.00 426.10L320.30 423.40Z" stroke="#619cff" stroke-width="0.8" fill="none"/>
<text transform="translate(330.80 395.00) scale(0.09890 0.10000)" x="0" y="0" font-size="65.00" fill="#1a1a1a" stroke="#1a1a1a" stroke-width="2.50" >20%_replaced</text>
<text transform="translate(330.80 410.40) scale(0.09890 0.10000)" x="0" y="0" font-size="65.00" fill="#1a1a1a" stroke="#1a1a1a" stroke-width="2.50" >30%_replaced</text>
<text transform="translate(330.80 425.80) scale(0.09890 0.10000)" x="0" y="0" font-size="65.00" fill="#1a1a1a" stroke="#1a1a1a" stroke-width="2.50" >40%_replaced</text>
<text transform="translate(151.50 561.20) scale(0.10000 0.10000)" x="0" y="0" font-size="150.00" fill="#111" >(</text>
<text transform="translate(158.00 562.00) scale(0.10000 0.10000)" x="0" y="0" font-size="160.00" fill="#111" stroke="#111" stroke-width="1.50" >c</text>
<text transform="translate(166.70 561.20) scale(0.10000 0.10000)" x="0" y="0" font-size="150.00" fill="#111" >)</text>
<rect x="401.7" y="295.5" width="272.09999999999997" height="211.7" fill="#fff"/>
<line x1="416.15" y1="295.50" x2="416.15" y2="507.20" stroke="#f7f7f7" stroke-width="0.8" />
<line x1="456.90" y1="295.50" x2="456.90" y2="507.20" stroke="#f7f7f7" stroke-width="0.8" />
<line x1="497.65" y1="295.50" x2="497.65" y2="507.20" stroke="#f7f7f7" stroke-width="0.8" />
<line x1="538.40" y1="295.50" x2="538.40" y2="507.20" stroke="#f7f7f7" stroke-width="0.8" />
<line x1="579.15" y1="295.50" x2="579.15" y2="507.20" stroke="#f7f7f7" stroke-width="0.8" />
<line x1="619.90" y1="295.50" x2="619.90" y2="507.20" stroke="#f7f7f7" stroke-width="0.8" />
<line x1="660.65" y1="295.50" x2="660.65" y2="507.20" stroke="#f7f7f7" stroke-width="0.8" />
<line x1="401.70" y1="488.75" x2="673.80" y2="488.75" stroke="#f7f7f7" stroke-width="0.8" />
<line x1="401.70" y1="469.20" x2="673.80" y2="469.20" stroke="#f7f7f7" stroke-width="0.8" />
<line x1="401.70" y1="449.65" x2="673.80" y2="449.65" stroke="#f7f7f7" stroke-width="0.8" />
<line x1="401.70" y1="430.10" x2="673.80" y2="430.10" stroke="#f7f7f7" stroke-width="0.8" />
<line x1="401.70" y1="410.55" x2="673.80" y2="410.55" stroke="#f7f7f7" stroke-width="0.8" />
<line x1="401.70" y1="391.00" x2="673.80" y2="391.00" stroke="#f7f7f7" stroke-width="0.8" />
<line x1="401.70" y1="371.45" x2="673.80" y2="371.45" stroke="#f7f7f7" stroke-width="0.8" />
<line x1="401.70" y1="351.90" x2="673.80" y2="351.90" stroke="#f7f7f7" stroke-width="0.8" />
<line x1="401.70" y1="332.35" x2="673.80" y2="332.35" stroke="#f7f7f7" stroke-width="0.8" />
<line x1="401.70" y1="312.80" x2="673.80" y2="312.80" stroke="#f7f7f7" stroke-width="0.8" />
<rect x="401.7" y="295.5" width="272.09999999999997" height="211.7" fill="none" stroke="#bdbdbd" stroke-width="1"/>
<line x1="416.50" y1="466.85" x2="416.50" y2="416.81" stroke="#e45a5a" stroke-width="1.0" />
<line x1="413.90" y1="466.85" x2="419.10" y2="466.85" stroke="#e45a5a" stroke-width="0.9" />
<line x1="413.90" y1="416.81" x2="419.10" y2="416.81" stroke="#e45a5a" stroke-width="0.9" />
<line x1="456.50" y1="465.29" x2="456.50" y2="418.37" stroke="#e45a5a" stroke-width="1.0" />
<line x1="453.90" y1="465.29" x2="459.10" y2="465.29" stroke="#e45a5a" stroke-width="0.9" />
<line x1="453.90" y1="418.37" x2="459.10" y2="418.37" stroke="#e45a5a" stroke-width="0.9" />
<line x1="497.50" y1="461.38" x2="497.50" y2="398.43" stroke="#e45a5a" stroke-width="1.0" />
<line x1="494.90" y1="461.38" x2="500.10" y2="461.38" stroke="#e45a5a" stroke-width="0.9" />
<line x1="494.90" y1="398.43" x2="500.10" y2="398.43" stroke="#e45a5a" stroke-width="0.9" />
<line x1="538.50" y1="464.51" x2="538.50" y2="418.76" stroke="#e45a5a" stroke-width="1.0" />
<line x1="535.90" y1="464.51" x2="541.10" y2="464.51" stroke="#e45a5a" stroke-width="0.9" />
<line x1="535.90" y1="418.76" x2="541.10" y2="418.76" stroke="#e45a5a" stroke-width="0.9" />
<line x1="579.50" y1="453.17" x2="579.50" y2="383.57" stroke="#e45a5a" stroke-width="1.0" />
<line x1="576.90" y1="453.17" x2="582.10" y2="453.17" stroke="#e45a5a" stroke-width="0.9" />
<line x1="576.90" y1="383.57" x2="582.10" y2="383.57" stroke="#e45a5a" stroke-width="0.9" />
<line x1="416.50" y1="475.06" x2="416.50" y2="439.48" stroke="#4a52dc" stroke-width="1.0" />
<line x1="413.90" y1="475.06" x2="419.10" y2="475.06" stroke="#4a52dc" stroke-width="0.9" />
<line x1="413.90" y1="439.48" x2="419.10" y2="439.48" stroke="#4a52dc" stroke-width="0.9" />
<line x1="456.50" y1="475.46" x2="456.50" y2="416.02" stroke="#4a52dc" stroke-width="1.0" />
<line x1="453.90" y1="475.46" x2="459.10" y2="475.46" stroke="#4a52dc" stroke-width="0.9" />
<line x1="453.90" y1="416.02" x2="459.10" y2="416.02" stroke="#4a52dc" stroke-width="0.9" />
<line x1="497.50" y1="464.90" x2="497.50" y2="410.94" stroke="#4a52dc" stroke-width="1.0" />
<line x1="494.90" y1="464.90" x2="500.10" y2="464.90" stroke="#4a52dc" stroke-width="0.9" />
<line x1="494.90" y1="410.94" x2="500.10" y2="410.94" stroke="#4a52dc" stroke-width="0.9" />
<line x1="538.50" y1="479.37" x2="538.50" y2="396.08" stroke="#4a52dc" stroke-width="1.0" />
<line x1="535.90" y1="479.37" x2="541.10" y2="479.37" stroke="#4a52dc" stroke-width="0.9" />
<line x1="535.90" y1="396.08" x2="541.10" y2="396.08" stroke="#4a52dc" stroke-width="0.9" />
<line x1="579.50" y1="466.85" x2="579.50" y2="432.06" stroke="#4a52dc" stroke-width="1.0" />
<line x1="576.90" y1="466.85" x2="582.10" y2="466.85" stroke="#4a52dc" stroke-width="0.9" />
<line x1="576.90" y1="432.06" x2="582.10" y2="432.06" stroke="#4a52dc" stroke-width="0.9" />
<line x1="619.50" y1="457.47" x2="619.50" y2="418.76" stroke="#4a52dc" stroke-width="1.0" />
<line x1="616.90" y1="457.47" x2="622.10" y2="457.47" stroke="#4a52dc" stroke-width="0.9" />
<line x1="616.90" y1="418.76" x2="622.10" y2="418.76" stroke="#4a52dc" stroke-width="0.9" />
<line x1="416.50" y1="473.11" x2="416.50" y2="417.98" stroke="#6ad46a" stroke-width="1.0" />
<line x1="413.90" y1="473.11" x2="419.10" y2="473.11" stroke="#6ad46a" stroke-width="0.9" />
<line x1="413.90" y1="417.98" x2="419.10" y2="417.98" stroke="#6ad46a" stroke-width="0.9" />
<line x1="456.50" y1="476.24" x2="456.50" y2="415.24" stroke="#6ad46a" stroke-width="1.0" />
<line x1="453.90" y1="476.24" x2="459.10" y2="476.24" stroke="#6ad46a" stroke-width="0.9" />
<line x1="453.90" y1="415.24" x2="459.10" y2="415.24" stroke="#6ad46a" stroke-width="0.9" />
<line x1="497.50" y1="486.01" x2="497.50" y2="452.00" stroke="#6ad46a" stroke-width="1.0" />
<line x1="494.90" y1="486.01" x2="500.10" y2="486.01" stroke="#6ad46a" stroke-width="0.9" />
<line x1="494.90" y1="452.00" x2="500.10" y2="452.00" stroke="#6ad46a" stroke-width="0.9" />
<line x1="538.50" y1="462.55" x2="538.50" y2="419.54" stroke="#6ad46a" stroke-width="1.0" />
<line x1="535.90" y1="462.55" x2="541.10" y2="462.55" stroke="#6ad46a" stroke-width="0.9" />
<line x1="535.90" y1="419.54" x2="541.10" y2="419.54" stroke="#6ad46a" stroke-width="0.9" />
<line x1="579.50" y1="480.15" x2="579.50" y2="434.01" stroke="#6ad46a" stroke-width="1.0" />
<line x1="576.90" y1="480.15" x2="582.10" y2="480.15" stroke="#6ad46a" stroke-width="0.9" />
<line x1="576.90" y1="434.01" x2="582.10" y2="434.01" stroke="#6ad46a" stroke-width="0.9" />
<line x1="619.50" y1="497.35" x2="619.50" y2="446.91" stroke="#6ad46a" stroke-width="1.0" />
<line x1="616.90" y1="497.35" x2="622.10" y2="497.35" stroke="#6ad46a" stroke-width="0.9" />
<line x1="616.90" y1="446.91" x2="622.10" y2="446.91" stroke="#6ad46a" stroke-width="0.9" />
<polyline points="416.15,441.83 456.90,441.83 497.65,430.10 538.40,441.83 579.15,418.76 619.90,472.72 660.65,304.98" fill="none" stroke="#e8262a" stroke-width="1.0" />
<polyline points="416.15,457.47 456.90,445.74 497.65,437.92 538.40,437.92 579.15,449.65 619.90,437.92 660.65,465.29" fill="none" stroke="#1a2ad6" stroke-width="1.2" stroke-dasharray="4 3"/>
<polyline points="416.15,445.74 456.90,445.74 497.65,469.20 538.40,441.83 579.15,457.47 619.90,472.72 660.65,402.73" fill="none" stroke="#2ac82a" stroke-width="1.2" stroke-dasharray="3.5 2 1 2"/>
<circle cx="416.15" cy="441.83" r="2.0" fill="#e8262a"/>
<circle cx="456.90" cy="441.83" r="2.0" fill="#e8262a"/>
<circle cx="497.65" cy="430.10" r="2.0" fill="#e8262a"/>
<circle cx="538.40" cy="441.83" r="2.0" fill="#e8262a"/>
<circle cx="579.15" cy="418.76" r="2.0" fill="#e8262a"/>
<circle cx="619.90" cy="472.72" r="2.0" fill="#e8262a"/>
<circle cx="660.65" cy="304.98" r="2.0" fill="#e8262a"/>
<circle cx="416.15" cy="457.47" r="2.0" fill="#1a2ad6"/>
<circle cx="456.90" cy="445.74" r="2.0" fill="#1a2ad6"/>
<circle cx="497.65" cy="437.92" r="2.0" fill="#1a2ad6"/>
<circle cx="538.40" cy="437.92" r="2.0" fill="#1a2ad6"/>
<circle cx="579.15" cy="449.65" r="2.0" fill="#1a2ad6"/>
<circle cx="619.90" cy="437.92" r="2.0" fill="#1a2ad6"/>
<circle cx="660.65" cy="465.29" r="2.0" fill="#1a2ad6"/>
<circle cx="416.15" cy="445.74" r="2.0" fill="#2ac82a"/>
<circle cx="456.90" cy="445.74" r="2.0" fill="#2ac82a"/>
<circle cx="497.65" cy="469.20" r="2.0" fill="#2ac82a"/>
<circle cx="538.40" cy="441.83" r="2.0" fill="#2ac82a"/>
<circle cx="579.15" cy="457.47" r="2.0" fill="#2ac82a"/>
<circle cx="619.90" cy="472.72" r="2.0" fill="#2ac82a"/>
<circle cx="660.65" cy="402.73" r="2.0" fill="#2ac82a"/>
<rect x="597.8" y="306.0" width="48.5" height="50.0" fill="#fff"/>
<rect x="599.4" y="308.2" width="11.4" height="45.4" fill="#fff" stroke="#dcdcdc" stroke-width="0.7"/>
<line x1="599.40" y1="323.90" x2="610.80" y2="323.90" stroke="#dcdcdc" stroke-width="0.7" />
<line x1="599.40" y1="339.00" x2="610.80" y2="339.00" stroke="#dcdcdc" stroke-width="0.7" />
<line x1="600.60" y1="316.40" x2="609.60" y2="316.40" stroke="#e8262a" stroke-width="1.1" />
<circle cx="605.1" cy="316.40" r="1.9" fill="#e8262a"/>
<line x1="600.60" y1="331.50" x2="609.60" y2="331.50" stroke="#1a2ad6" stroke-width="1.1" />
<circle cx="605.1" cy="331.50" r="1.9" fill="#1a2ad6"/>
<line x1="600.60" y1="346.60" x2="609.60" y2="346.60" stroke="#2ac82a" stroke-width="1.1" />
<circle cx="605.1" cy="346.60" r="1.9" fill="#2ac82a"/>
<text transform="translate(612.70 318.90) scale(0.07195 0.10000)" x="0" y="0" font-size="70.00" fill="#1a1a1a" stroke="#1a1a1a" stroke-width="2.50" >20% replaced</text>
<text transform="translate(612.70 334.00) scale(0.07195 0.10000)" x="0" y="0" font-size="70.00" fill="#1a1a1a" stroke="#1a1a1a" stroke-width="2.50" >30% replaced</text>
<text transform="translate(612.70 349.10) scale(0.07195 0.10000)" x="0" y="0" font-size="70.00" fill="#1a1a1a" stroke="#1a1a1a" stroke-width="2.50" >40% replaced</text>
<line x1="399.60" y1="469.20" x2="401.70" y2="469.20" stroke="#333" stroke-width="0.8" />
<text transform="translate(398.40 471.40) scale(0.08752 0.10000)" x="0" y="0" font-size="60.00" fill="#1a1a1a" stroke="#1a1a1a" stroke-width="2.50" text-anchor="end" >0.1</text>
<line x1="399.60" y1="430.10" x2="401.70" y2="430.10" stroke="#333" stroke-width="0.8" />
<text transform="translate(398.40 432.30) scale(0.08752 0.10000)" x="0" y="0" font-size="60.00" fill="#1a1a1a" stroke="#1a1a1a" stroke-width="2.50" text-anchor="end" >0.2</text>
<line x1="399.60" y1="391.00" x2="401.70" y2="391.00" stroke="#333" stroke-width="0.8" />
<text transform="translate(398.40 393.20) scale(0.08752 0.10000)" x="0" y="0" font-size="60.00" fill="#1a1a1a" stroke="#1a1a1a" stroke-width="2.50" text-anchor="end" >0.3</text>
<line x1="399.60" y1="351.90" x2="401.70" y2="351.90" stroke="#333" stroke-width="0.8" />
<text transform="translate(398.40 354.10) scale(0.08752 0.10000)" x="0" y="0" font-size="60.00" fill="#1a1a1a" stroke="#1a1a1a" stroke-width="2.50" text-anchor="end" >0.4</text>
<line x1="399.60" y1="312.80" x2="401.70" y2="312.80" stroke="#333" stroke-width="0.8" />
<text transform="translate(398.40 315.00) scale(0.08752 0.10000)" x="0" y="0" font-size="60.00" fill="#1a1a1a" stroke="#1a1a1a" stroke-width="2.50" text-anchor="end" >0.5</text>
<line x1="456.90" y1="507.20" x2="456.90" y2="509.60" stroke="#333" stroke-width="0.8" />
<text transform="translate(456.90 516.70) scale(0.08392 0.10000)" x="0" y="0" font-size="60.00" fill="#1a1a1a" stroke="#1a1a1a" stroke-width="2.50" text-anchor="middle" >0.2</text>
<line x1="538.40" y1="507.20" x2="538.40" y2="509.60" stroke="#333" stroke-width="0.8" />
<text transform="translate(538.40 516.70) scale(0.08392 0.10000)" x="0" y="0" font-size="60.00" fill="#1a1a1a" stroke="#1a1a1a" stroke-width="2.50" text-anchor="middle" >0.4</text>
<line x1="619.90" y1="507.20" x2="619.90" y2="509.60" stroke="#333" stroke-width="0.8" />
<text transform="translate(619.90 516.70) scale(0.08392 0.10000)" x="0" y="0" font-size="60.00" fill="#1a1a1a" stroke="#1a1a1a" stroke-width="2.50" text-anchor="middle" >0.6</text>
<text transform="translate(506.80 524.90) scale(0.07996 0.10000)" x="0" y="0" font-size="76.00" fill="#1a1a1a" stroke="#1a1a1a" stroke-width="2.50" >Original module density</text>
<text transform="translate(389.60 445.20) rotate(-90) scale(0.10660 0.10000)" x="0" y="0" font-size="68.00" fill="#1a1a1a" stroke="#1a1a1a" stroke-width="2.50" >Replaced module density</text>
<text transform="translate(530.50 548.10) scale(0.10000 0.10000)" x="0" y="0" font-size="150.00" fill="#111" >(</text>
<text transform="translate(537.00 549.30) scale(0.10000 0.10000)" x="0" y="0" font-size="160.00" fill="#111" stroke="#111" stroke-width="1.50" >d</text>
<text transform="translate(547.30 548.10) scale(0.10000 0.10000)" x="0" y="0" font-size="150.00" fill="#111" >)</text>
</g></svg></body></html>
